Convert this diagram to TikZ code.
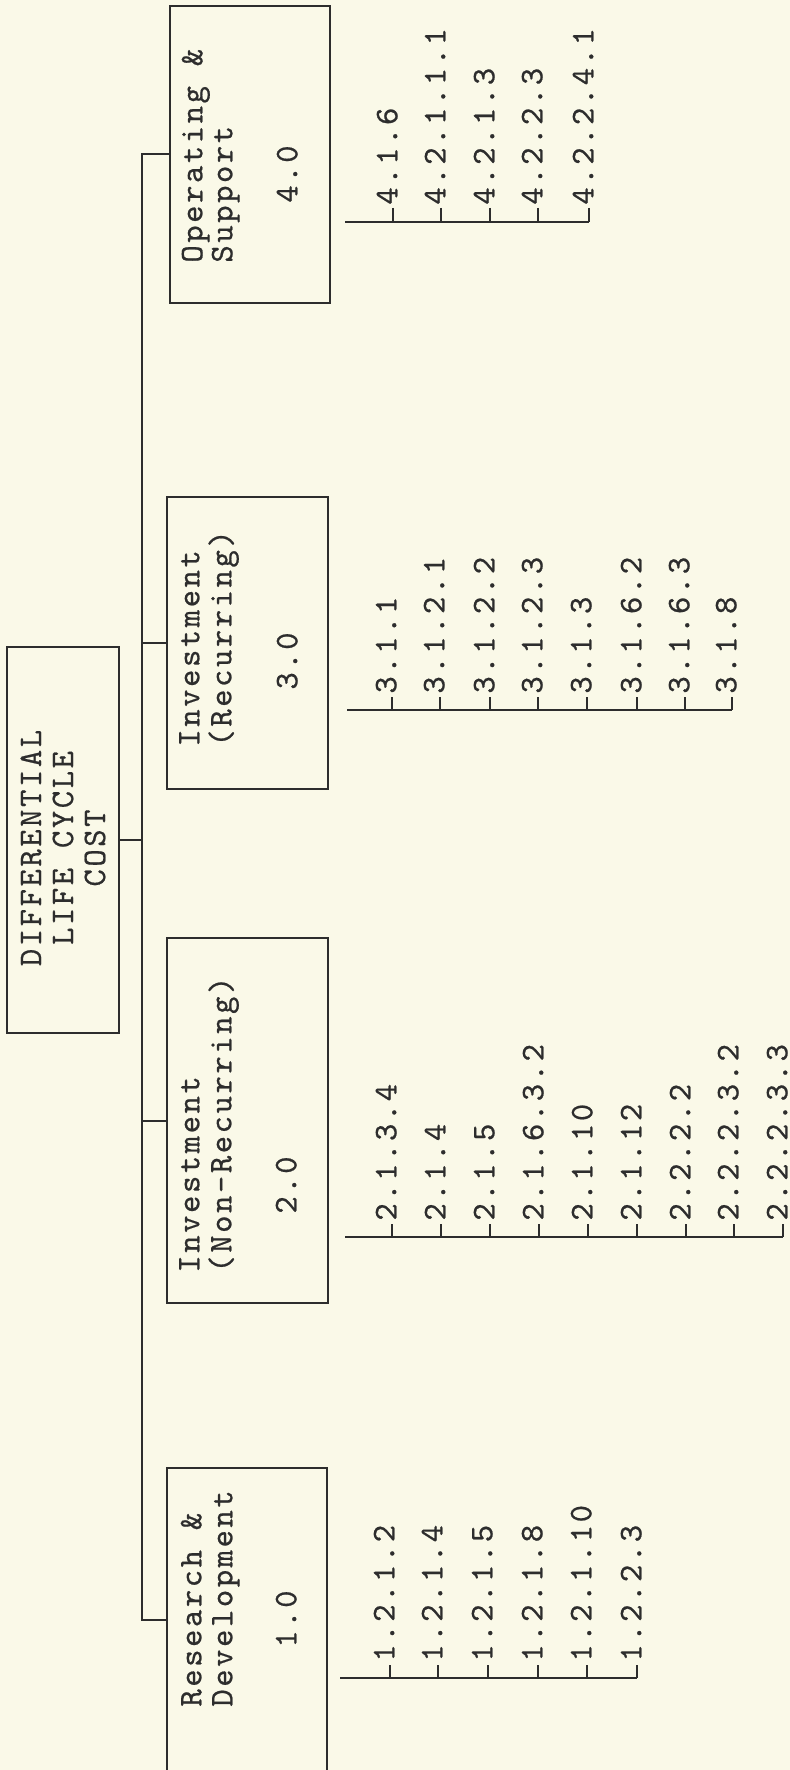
\documentclass[tikz,border=0pt]{standalone}
\usepackage{fontspec}
\newfontfamily\twfont{lmmono10-regular}[Extension=.otf, LetterSpace=7.8, FakeBold=0.6]
\definecolor{paper}{RGB}{250,249,232}
\definecolor{ink}{RGB}{45,45,45}
\begin{document}
\begin{tikzpicture}[x=0.5pt,y=-0.5pt,
  box/.style={draw=ink, line width=1pt, inner sep=0pt},
  txt/.style={rotate=90, anchor=mid west, inner sep=0pt, text=ink,
    font=\twfont\fontsize{16.5}{16}\selectfont},
  item/.style={txt, inner xsep=1.5pt},
  wire/.style={draw=ink, line width=1pt}]
\fill[paper] (0,0) rectangle (790,1770);
\useasboundingbox (0,0) rectangle (790,1770);

% boxes
\node[box, minimum width=56pt, minimum height=193pt] (root) at (63,840) {};
\node[box, minimum width=80pt, minimum height=148.5pt] (b4) at (250,154.5) {};
\node[box, minimum width=80.5pt, minimum height=146pt] (b3) at (247.5,643) {};
\node[box, minimum width=80.5pt, minimum height=182.5pt] (b2) at (247.5,1120.5) {};
\node[box, minimum width=80pt, minimum height=152pt] (b1) at (247,1620) {};

% box texts
\node[txt, anchor=center, align=center] (roottxt) at (63,848) {DIFFERENTIAL\\LIFE CYCLE\\COST};
\node[txt] (t4a) at (198,263) {Operating \&};
\node[txt] (t4b) at (228,263) {Support};
\node[txt] (t4c) at (293,203) {4.0};
\node[txt] (t3a) at (195,747) {Investment};
\node[txt] (t3b) at (227,747) {(Recurring)};
\node[txt] (t3c) at (293,690) {3.0};
\node[txt] (t2a) at (195,1273) {Investment};
\node[txt] (t2b) at (227,1273) {(Non-Recurring)};
\node[txt] (t2c) at (292,1214) {2.0};
\node[txt] (t1a) at (197,1707) {Research \&};
\node[txt] (t1b) at (228,1707) {Development};
\node[txt] (t1c) at (292,1648) {1.0};

% spine
\coordinate (sx) at (142,0);
\draw[wire] (b4.west) -- (b4.west -| sx) -- (b1.west -| sx) -- (b1.west);
\draw[wire] (b3.west) -- (b3.west -| sx);
\draw[wire] (b2.west) -- (b2.west -| sx);
\draw[wire] (root.east) -- (root.east -| sx);

% list 4
\coordinate (l4) at (345,222);
\foreach \x/\lab [count=\i] in {393/4.1.6, 441/4.2.1.1.1, 490/4.2.1.3, 538/4.2.2.3, 589/4.2.2.4.1}{
  \node[item] (i4-\i) at (\x,208) {\lab};
  \draw[wire] (i4-\i.mid west) -- (i4-\i.mid west |- l4);
}
\draw[wire] (l4) -- (i4-5.mid west |- l4);

% list 3
\coordinate (l3) at (347,710);
\foreach \x/\lab [count=\i] in {392/3.1.1, 440/3.1.2.1, 490/3.1.2.2, 538/3.1.2.3, 587/3.1.3, 637/3.1.6.2, 685/3.1.6.3, 732/3.1.8}{
  \node[item] (i3-\i) at (\x,697) {\lab};
  \draw[wire] (i3-\i.mid west) -- (i3-\i.mid west |- l3);
}
\draw[wire] (l3) -- (i3-8.mid west |- l3);

% list 2
\coordinate (l2) at (345,1237);
\foreach \x/\lab [count=\i] in {392/2.1.3.4, 441/2.1.4, 490/2.1.5, 539/2.1.6.3.2, 588/2.1.10, 637/2.1.12, 686/2.2.2.2, 734/2.2.2.3.2, 783/2.2.2.3.3}{
  \node[item] (i2-\i) at (\x,1224) {\lab};
  \draw[wire] (i2-\i.mid west) -- (i2-\i.mid west |- l2);
}
\draw[wire] (l2) -- (i2-9.mid west |- l2);

% list 1
\coordinate (l1) at (340,1678);
\foreach \x/\lab [count=\i] in {390/1.2.1.2, 438/1.2.1.4, 488/1.2.1.5, 538/1.2.1.8, 587/1.2.1.10, 637/1.2.2.3}{
  \node[item] (i1-\i) at (\x,1665) {\lab};
  \draw[wire] (i1-\i.mid west) -- (i1-\i.mid west |- l1);
}
\draw[wire] (l1) -- (i1-6.mid west |- l1);
\end{tikzpicture}
\end{document}
